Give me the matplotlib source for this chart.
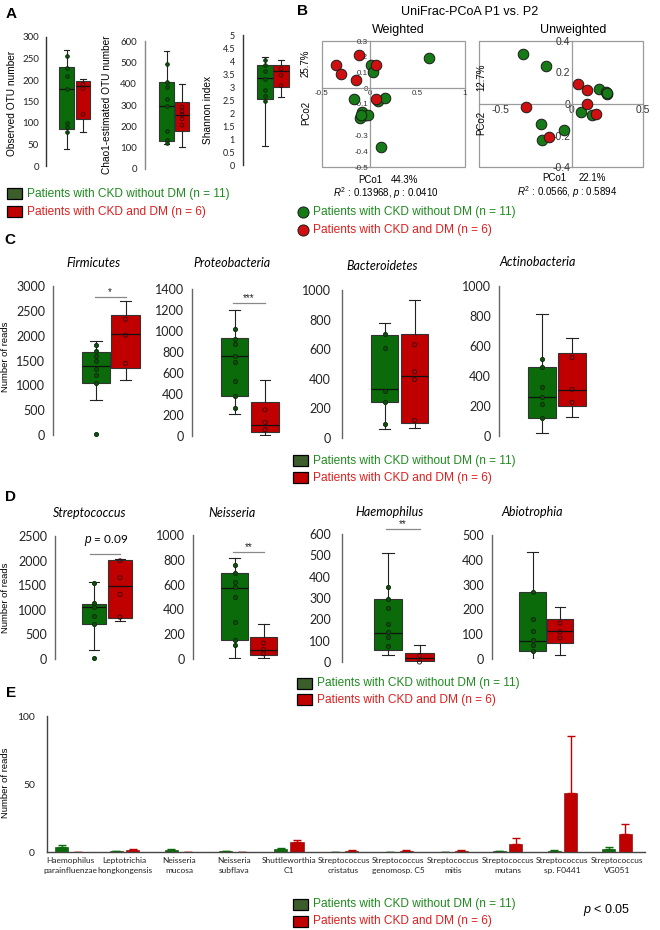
import matplotlib
matplotlib.use("Agg")
import matplotlib.pyplot as plt
import numpy as np
from matplotlib.lines import Line2D
from matplotlib.patches import Rectangle

W, H = 660, 930
GREEN = "#0b6b0b"
RED = "#c00000"
TXT_GREEN = "#1f8b1f"
TXT_RED = "#e01e1e"
PATCH_GREEN = "#3b5e2b"
B_GREEN = "#167a16"
B_RED = "#d01010"

plt.rcParams["font.family"] = ["Liberation Sans", "DejaVu Sans"]
plt.rcParams["mathtext.fontset"] = "custom"
plt.rcParams["mathtext.rm"] = "Liberation Sans"
plt.rcParams["mathtext.it"] = "Liberation Sans:italic"
TICKFONT = "Lato"

# ---------------------------------------------------------------------------
# Data: box stats are [whislo, q1, median, q3, whishi]
# ---------------------------------------------------------------------------

# A - alpha diversity
otu_g = [40, 85, 178, 230, 270]
otu_g_pts = [255, 228, 210, 178, 100, 90, 78]
otu_r = [80, 110, 185, 197, 203]
otu_r_pts = [190, 180, 120]

chao_g = [115, 130, 295, 410, 555]
chao_g_pts = [490, 410, 385, 330, 295, 180, 135, 120]
chao_r = [105, 180, 255, 315, 400]
chao_r_pts = [290, 270, 255, 235, 205]

shannon_g = [0.75, 2.55, 3.35, 3.85, 4.15]
shannon_g_pts = [4.05, 3.85, 3.6, 3.3, 2.9, 2.65, 2.45]
shannon_r = [2.6, 3.0, 3.6, 3.85, 4.05]
shannon_r_pts = [3.7, 3.45, 3.05]

# B - PCoA coordinates
w_green_x = [0.62, 0.01, 0.03, 0.09, 0.16, -0.16, -0.08, -0.10, -0.02, 0.12, -0.09]
w_green_y = [0.19, 0.15, 0.10, -0.08, -0.06, -0.07, -0.15, -0.19, -0.17, -0.37, -0.17]
w_red_x = [-0.35, -0.11, -0.30, -0.14, 0.07, 0.07]
w_red_y = [0.15, 0.21, 0.09, 0.05, 0.15, -0.07]

u_green_x = [-0.34, -0.18, 0.19, 0.24, 0.25, 0.065, 0.14, -0.21, -0.05, -0.205, 0.245]
u_green_y = [0.32, 0.24, 0.097, 0.076, 0.061, -0.051, -0.072, -0.13, -0.167, -0.23, 0.07]
u_red_x = [0.047, 0.105, -0.32, 0.109, 0.174, -0.156]
u_red_y = [0.125, 0.087, -0.019, -0.002, -0.066, -0.21]

# C - phyla
firm_g = [700, 1050, 1380, 1680, 1900]
firm_g_pts = [1820, 1700, 1600, 1480, 1330, 1200, 1050, 30]
firm_r = [1100, 1340, 2030, 2420, 2700]
firm_r_pts = [2330, 2010, 1440]

proteo_g = [210, 380, 760, 930, 1200]
proteo_g_pts = [1020, 920, 880, 760, 700, 520, 380, 270]
proteo_r = [10, 40, 100, 320, 530]
proteo_r_pts = [250, 130, 60]

bact_g = [63, 244, 334, 695, 774]
bact_g_pts = [700, 605, 320, 244, 95]
bact_r = [68, 104, 420, 704, 932]
bact_r_pts = [630, 447, 395, 120]

actino_g = [22, 122, 257, 463, 811]
actino_g_pts = [510, 463, 328, 257, 211, 120]
actino_r = [124, 200, 308, 556, 654]
actino_r_pts = [523, 310, 224]

# D - genera
strep_g = [175, 714, 1051, 1119, 1570]
strep_g_pts = [1536, 1132, 1051, 876, 714, 13]
strep_r = [768, 829, 1482, 2008, 2042]
strep_r_pts = [1995, 1651, 1314, 849]

neis_g = [5, 155, 571, 692, 812]
neis_g_pts = [759, 692, 617, 579, 499, 295, 155, 110]
neis_r = [5, 35, 70, 177, 284]
neis_r_pts = [129, 75, 43]

haem_g = [31, 58, 137, 295, 513]
haem_g_pts = [350, 295, 254, 180, 141, 118, 74]
haem_r = [0, 3, 17, 44, 79]
haem_r_pts = [30, 0]

abio_g = [0, 34, 71, 270, 431]
abio_g_pts = [270, 163, 114, 77, 56, 34]
abio_r = [15, 66, 114, 160, 208]
abio_r_pts = [145, 110, 85]

# E - species
species = ["Haemophilus\nparainfluenzae", "Leptotrichia\nhongkongensis", "Neisseria\nmucosa",
           "Neisseria\nsubflava", "Shuttleworthia\nC1", "Streptococcus\ncristatus",
           "Streptococcus\ngenomosp. C5", "Streptococcus\nmitis", "Streptococcus\nmutans",
           "Streptococcus\nsp. F0441", "Streptococcus\nVG051"]
sp_green = [3.6, 0.5, 1.5, 0.4, 2.5, 0.2, 0.0, 0.0, 0.4, 0.8, 2.5]
sp_green_err = [1.8, 0.3, 0.5, 0.2, 0.7, 0.1, 0.0, 0.0, 0.2, 0.4, 1.3]
sp_red = [0.3, 1.5, 0.0, 0.0, 7.0, 0.8, 0.8, 0.7, 5.6, 43.6, 13.5]
sp_red_err = [0.0, 0.5, 0.0, 0.0, 2.0, 0.4, 0.5, 0.5, 4.9, 41.9, 6.8]

LEG_GREEN = "Patients with CKD without DM (n = 11)"
LEG_RED = "Patients with CKD and DM (n = 6)"


# ---------------------------------------------------------------------------
# Helpers (pixel layout -> figure fractions)
# ---------------------------------------------------------------------------

def px_axes(fig, x0, y0, x1, y1):
    return fig.add_axes([x0 / W, 1 - y1 / H, (x1 - x0) / W, (y1 - y0) / H])


def ftext(fig, x, y, s, **kw):
    kw.setdefault("ha", "center")
    kw.setdefault("va", "center")
    return fig.text(x / W, 1 - y / H, s, **kw)


def px2pt(p):
    return p * 72 / 100


def box_panel(fig, axis_x, top_y, zero_y, ymax, step, cg, sp, bw,
              g, gp, r, rp, fs=9, pad=8, spine="#666", msize=9):
    x1 = cg + sp * 1.9
    ax = px_axes(fig, axis_x, top_y, x1, zero_y)
    ax.set_ylim(0, ymax)
    ax.set_xlim(1 - (cg - axis_x) / sp, 1 + (x1 - cg) / sp)
    stats = []
    for s in (g, r):
        stats.append(dict(whislo=s[0], q1=s[1], med=s[2], q3=s[3], whishi=s[4], fliers=[]))
    res = ax.bxp(stats, positions=[1, 2], widths=bw, patch_artist=True, showfliers=False,
                 capwidths=bw * 0.4,
                 boxprops=dict(edgecolor="#333333", linewidth=0.8),
                 medianprops=dict(color="#111111", linewidth=0.9),
                 whiskerprops=dict(color="#222222", linewidth=0.8),
                 capprops=dict(color="#222222", linewidth=0.8))
    for patch, c in zip(res["boxes"], [GREEN, RED]):
        patch.set_facecolor(c)
    ax.scatter(np.full(len(gp), 1.0), gp, s=msize, facecolors="#0e4f0e",
               edgecolors="#0a2a0a", linewidths=0.6, zorder=4, clip_on=False)
    ax.scatter(np.full(len(rp), 2.0), rp, s=msize, facecolors="none",
               edgecolors="#3a0000", linewidths=0.6, zorder=4, clip_on=False)
    for side in ("top", "right", "bottom"):
        ax.spines[side].set_visible(False)
    ax.spines["left"].set_color(spine)
    ax.spines["left"].set_linewidth(1.0)
    ax.set_xticks([])
    ticks = np.arange(0, ymax + step / 2, step)
    ax.set_yticks(ticks)
    ax.set_yticklabels([f"{t:g}" for t in ticks], fontfamily=TICKFONT)
    ax.tick_params(axis="y", length=0, pad=px2pt(pad), labelsize=fs, colors="#222222")
    ax.patch.set_alpha(0)
    return ax


def sig_bar(ax, y, label, fs=7, x0=0.95, x1=2.0):
    ax.plot([x0, x1], [y, y], color="#888888", lw=0.9, clip_on=False)
    ax.text((x0 + x1) / 2, y, label, ha="center", va="bottom", fontsize=fs,
            color="#222222", clip_on=False)


def legend_boxes(fig, x, y_g, y_r, fs=8.6, pw=15, ph=11):
    for yy, fc, tc, s in ((y_g, PATCH_GREEN, TXT_GREEN, LEG_GREEN),
                          (y_r, RED, TXT_RED, LEG_RED)):
        fig.add_artist(Rectangle((x / W, 1 - (yy + ph / 2) / H), pw / W, ph / H,
                                 transform=fig.transFigure, facecolor=fc,
                                 edgecolor="black", linewidth=0.9))
        ftext(fig, x + pw + 5, yy, s, ha="left", color=tc, fontsize=fs)


def pcoa_axes(fig, x0, y0, x1, y1, xlim, ylim, xticks, yticks, gx, gy, rx, ry, fs):
    ax = px_axes(fig, x0, y0, x1, y1)
    ax.set_xlim(*xlim)
    ax.set_ylim(*ylim)
    ax.spines["left"].set_position(("data", 0))
    ax.spines["bottom"].set_position(("data", 0))
    ax.spines["top"].set_visible(False)
    ax.spines["right"].set_visible(False)
    for side in ("left", "bottom"):
        ax.spines[side].set_color("#9a9a9a")
        ax.spines[side].set_linewidth(0.9)
    ax.add_patch(Rectangle((0, 0), 1, 1, transform=ax.transAxes, fill=False,
                           edgecolor="#9a9a9a", linewidth=0.9, clip_on=False))
    ax.set_xticks(xticks)
    ax.set_xticklabels([f"{t:g}" for t in xticks])
    ax.set_yticks(yticks)
    ax.set_yticklabels([f"{t:g}" for t in yticks])
    ax.tick_params(length=0, labelsize=fs, colors="#333333", pad=1)
    ax.scatter(gx, gy, s=58, c=B_GREEN, edgecolors="#1a1a1a", linewidths=0.7, zorder=3)
    ax.scatter(rx, ry, s=58, c=B_RED, edgecolors="#1a1a1a", linewidths=0.7, zorder=3)
    return ax


fig = plt.figure(figsize=(W / 100, H / 100), dpi=100)

# ---------------------------------------------------------------------------
# Panel A
# ---------------------------------------------------------------------------
ftext(fig, 11, 14, "A", fontsize=11, fontweight="bold")
box_panel(fig, 46, 37, 166, 300, 50, 66.5, 16.5, 0.9, otu_g, otu_g_pts, otu_r, otu_r_pts,
          fs=7, pad=7, spine="#333333", msize=7)
box_panel(fig, 145, 41, 169, 600, 100, 166.5, 15.5, 0.93, chao_g, chao_g_pts, chao_r, chao_r_pts,
          fs=7, pad=8, spine="#888888", msize=7)
box_panel(fig, 243, 35, 165, 5, 0.5, 265, 16, 0.95, shannon_g, shannon_g_pts, shannon_r,
          shannon_r_pts, fs=6.5, pad=8, spine="#333333", msize=7)
ftext(fig, 12, 103, "Observed OTU number", rotation=90, fontsize=7.3)
ftext(fig, 107, 105, "Chao1-estimated OTU number", rotation=90, fontsize=7.3)
ftext(fig, 208, 110, "Shannon index", rotation=90, fontsize=7.3)
legend_boxes(fig, 7, 194, 212)

# ---------------------------------------------------------------------------
# Panel B
# ---------------------------------------------------------------------------
ftext(fig, 302, 11, "B", fontsize=11, fontweight="bold")
ftext(fig, 470, 12, "UniFrac-PCoA P1 vs. P2", fontsize=9)
ftext(fig, 398, 30, "Weighted", fontsize=9)
ftext(fig, 573, 30, "Unweighted", fontsize=9)
pcoa_axes(fig, 322, 41, 465, 167, (-0.5, 1.0), (-0.5, 0.3), [-0.5, 0, 0.5, 1],
          [-0.5, -0.4, -0.3, -0.2, -0.1, 0, 0.1, 0.2, 0.3],
          w_green_x, w_green_y, w_red_x, w_red_y, fs=5.8)
pcoa_axes(fig, 479, 41, 643, 167, (-0.647, 0.5), (-0.4, 0.4), [-0.5, 0, 0.5],
          [-0.4, -0.2, 0, 0.2, 0.4],
          u_green_x, u_green_y, u_red_x, u_red_y, fs=7.5)
ftext(fig, 306, 113, "PCo2", rotation=90, fontsize=7)
ftext(fig, 306, 63, "25.7%", rotation=90, fontsize=7)
ftext(fig, 481, 123, "PCo2", rotation=90, fontsize=7)
ftext(fig, 481, 77, "12.7%", rotation=90, fontsize=7)
ftext(fig, 370, 180, "PCo1", fontsize=7)
ftext(fig, 405, 180, "44.3%", fontsize=7)
ftext(fig, 554, 178, "PCo1", fontsize=7)
ftext(fig, 592, 178, "22.1%", fontsize=7)
ftext(fig, 386, 193, r"$\mathit{R}^2$ : 0.13968, $\mathit{p}$ : 0.0410", fontsize=7)
ftext(fig, 567, 192, r"$\mathit{R}^2$ : 0.0566, $\mathit{p}$ : 0.5894", fontsize=7)
for yy, fc, tc, s in ((212, B_GREEN, TXT_GREEN, LEG_GREEN), (230, B_RED, TXT_RED, LEG_RED)):
    fig.add_artist(Line2D([303 / W], [1 - yy / H], marker="o", markersize=8, color=fc,
                          markeredgecolor="#1a1a1a", markeredgewidth=0.7,
                          transform=fig.transFigure))
    ftext(fig, 313, yy, s, ha="left", color=tc, fontsize=8.6)

# ---------------------------------------------------------------------------
# Panel C
# ---------------------------------------------------------------------------
ftext(fig, 10, 240, "C", fontsize=11, fontweight="bold")
ax = box_panel(fig, 53, 286, 435, 3000, 500, 96, 29.5, 0.95, firm_g, firm_g_pts, firm_r, firm_r_pts)
sig_bar(ax, 2780, "*")
ax = box_panel(fig, 192, 289, 436, 1400, 200, 234.5, 30.5, 0.9, proteo_g, proteo_g_pts,
               proteo_r, proteo_r_pts)
sig_bar(ax, 1267, "***")
box_panel(fig, 342, 290, 438, 1000, 200, 384.5, 30, 0.9, bact_g, bact_g_pts, bact_r, bact_r_pts,
          pad=11)
box_panel(fig, 499, 286, 436, 1000, 200, 542, 30, 0.93, actino_g, actino_g_pts, actino_r,
          actino_r_pts)
for x, y, s in ((93, 263, "Firmicutes"), (232, 263, "Proteobacteria"),
                (382, 266, "Bacteroidetes"), (538, 262, "Actinobacteria")):
    ftext(fig, x, y, s, fontsize=9, style="italic", fontfamily=TICKFONT)
ftext(fig, 6, 357, "Number of reads", rotation=90, fontsize=6.8)
legend_boxes(fig, 293, 461, 478)

# ---------------------------------------------------------------------------
# Panel D
# ---------------------------------------------------------------------------
ftext(fig, 10, 497, "D", fontsize=11, fontweight="bold")
ax = box_panel(fig, 55, 536, 659, 2500, 500, 94, 26, 0.95, strep_g, strep_g_pts, strep_r,
               strep_r_pts)
ax.plot([0.85, 2.0], [2134, 2134], color="#888888", lw=0.9, clip_on=False)
ax.text(1.45, 2250, r"$\mathit{p}$ = 0.09", ha="center", va="bottom", fontsize=8.5,
        fontfamily=TICKFONT, clip_on=False)
ax = box_panel(fig, 193, 535, 659, 1000, 200, 234.5, 29, 0.9, neis_g, neis_g_pts, neis_r,
               neis_r_pts)
sig_bar(ax, 863, "**")
ax = box_panel(fig, 342, 534, 662, 600, 100, 388, 31.5, 0.92, haem_g, haem_g_pts, haem_r,
               haem_r_pts, pad=11)
sig_bar(ax, 623, "**")
box_panel(fig, 492, 535, 659, 500, 100, 532.5, 27.5, 0.95, abio_g, abio_g_pts, abio_r,
          abio_r_pts)
for x, y, s in ((90, 513, "Streptococcus"), (232, 513, "Neisseria"),
                (390, 512, "Haemophilus"), (532, 512, "Abiotrophia")):
    ftext(fig, x, y, s, fontsize=9, style="italic", fontfamily=TICKFONT)
ftext(fig, 6, 598, "Number of reads", rotation=90, fontsize=6.8)
legend_boxes(fig, 297, 683, 700)

# ---------------------------------------------------------------------------
# Panel E
# ---------------------------------------------------------------------------
ftext(fig, 11, 693, "E", fontsize=11, fontweight="bold")
axe = px_axes(fig, 47, 716, 645, 852)
xs = np.arange(len(species))
off, bw = 0.15, 0.24
axe.bar(xs - off, sp_green, width=bw, color=GREEN, edgecolor="#0a3a0a", linewidth=0.4)
axe.bar(xs + off, sp_red, width=bw, color=RED, edgecolor="#700000", linewidth=0.4)
gz = np.zeros(len(species))
axe.errorbar(xs - off, sp_green, yerr=[gz, sp_green_err], fmt="none", ecolor=GREEN,
             elinewidth=1.0, capsize=3, capthick=1.0)
axe.errorbar(xs + off, sp_red, yerr=[gz, sp_red_err], fmt="none", ecolor=RED,
             elinewidth=1.0, capsize=3, capthick=1.0)
axe.set_xlim(-0.42, 10.51)
axe.set_ylim(0, 100)
axe.set_yticks([0, 50, 100])
axe.set_yticklabels(["0", "50", "100"], fontfamily=TICKFONT)
axe.set_xticks(xs)
axe.set_xticklabels(species, fontfamily=TICKFONT, fontsize=6, linespacing=1.5)
axe.tick_params(axis="y", length=0, pad=px2pt(12), labelsize=7.5, colors="#222222")
axe.tick_params(axis="x", length=0, pad=px2pt(5), colors="#222222")
for side in ("top", "right"):
    axe.spines[side].set_visible(False)
for side in ("left", "bottom"):
    axe.spines[side].set_color("#444444")
    axe.spines[side].set_linewidth(1.0)
ftext(fig, 6, 783, "Number of reads", rotation=90, fontsize=6.8)
legend_boxes(fig, 293, 904, 921)
ftext(fig, 607, 910, r"$\mathit{p}$ < 0.05", fontsize=9)

fig.savefig("out.png", dpi=100)
